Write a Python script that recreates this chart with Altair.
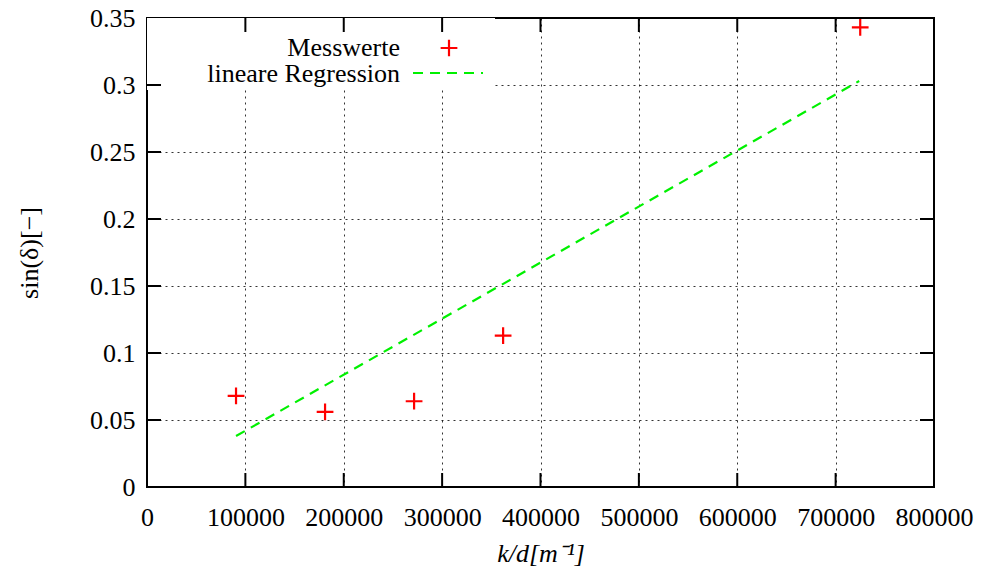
import altair as alt
import pandas as pd

# Data
kd = [90500, 181000, 271500, 362000, 725000]
sin_delta = [0.068, 0.056, 0.064, 0.113, 0.343]
reg_x = [90500, 724000]
reg_y = [0.038, 0.303]
x_ticks = [0, 100000, 200000, 300000, 400000, 500000, 600000, 700000, 800000]
y_ticks = [0, 0.05, 0.1, 0.15, 0.2, 0.25, 0.3, 0.35]
legend_labels = ["Messwerte", "lineare Regression"]

W, H = 787, 469
X_MAX, Y_MAX = 800000, 0.35
FONT = "Liberation Serif"
FS = 26
TL = 14  # tick length in px
RED = "#ff0000"
GREEN = "#00f000"
CROSS = "M-1,0L1,0M0,-1L0,1"

pts = pd.DataFrame({"x": kd, "y": sin_delta})
reg = pd.DataFrame({"x": reg_x, "y": reg_y})

# inward major tick segments on all four sides, as two-point line segments
ty = Y_MAX * TL / H
tx = X_MAX * TL / W
seg_rows = []
k = 0
for v in x_ticks[1:-1]:
    for (a, b) in [(0, ty), (Y_MAX - ty, Y_MAX)]:
        seg_rows.append({"seg": k, "o": 0, "x": v, "y": a})
        seg_rows.append({"seg": k, "o": 1, "x": v, "y": b})
        k += 1
for v in y_ticks[1:-1]:
    for (a, b) in [(0, tx), (X_MAX - tx, X_MAX)]:
        seg_rows.append({"seg": k, "o": 0, "x": a, "y": v})
        seg_rows.append({"seg": k, "o": 1, "x": b, "y": v})
        k += 1
seg_df = pd.DataFrame(seg_rows)

xs = alt.Scale(domain=[0, X_MAX], nice=False, zero=False)
ys = alt.Scale(domain=[0, Y_MAX], nice=False, zero=False)

# Layer 1: labels + grid
grid_layer = alt.Chart(pts).mark_point(opacity=0).encode(
    x=alt.X("x:Q", scale=xs, axis=alt.Axis(
        values=x_ticks, format="d", grid=True, gridDash=[2, 4], gridColor="#000",
        gridOpacity=0.8, ticks=False, domain=False, labelFont=FONT, labelFontSize=FS,
        labelColor="#000", labelPadding=17, title="k/d[m⁻¹]", titleFont=FONT,
        titleFontSize=FS, titleFontStyle="italic", titleFontWeight="normal",
        titleColor="#000", titlePadding=10, labelFlush=False)),
    y=alt.Y("y:Q", scale=ys, axis=alt.Axis(
        values=y_ticks, format="~g", grid=True, gridDash=[2, 4], gridColor="#000",
        gridOpacity=0.8, ticks=False, domain=False, labelFont=FONT, labelFontSize=FS,
        labelColor="#000", labelPadding=12, title="sin(δ)[−]", titleFont=FONT,
        titleFontSize=FS, titleFontWeight="normal", titleColor="#000",
        titlePadding=47, labelFlush=False)),
)

# white legend box
legend_box = alt.Chart(pd.DataFrame({"a": [0]})).mark_rect(color="white").encode(
    x=alt.value(0), x2=alt.value(348), y=alt.value(0), y2=alt.value(72)
)

reg_line = alt.Chart(reg).mark_line(color=GREEN, strokeWidth=2.2, strokeDash=[10, 7]).encode(
    x=alt.X("x:Q", scale=xs),
    y=alt.Y("y:Q", scale=ys),
)

tick_lines = alt.Chart(seg_df).mark_line(color="black", strokeWidth=2).encode(
    x=alt.X("x:Q", scale=xs),
    y=alt.Y("y:Q", scale=ys),
    detail="seg:N",
    order="o:Q",
)

points = alt.Chart(pts).mark_point(shape=CROSS, filled=False, color=RED, strokeWidth=2.2,
                                   size=280, opacity=1).encode(
    x=alt.X("x:Q", scale=xs),
    y=alt.Y("y:Q", scale=ys),
)

leg_text1 = alt.Chart(pd.DataFrame({"t": [legend_labels[0]]})).mark_text(
    align="right", baseline="middle", font=FONT, fontSize=FS, color="#000").encode(
    text="t:N", x=alt.value(253), y=alt.value(30))
leg_text2 = alt.Chart(pd.DataFrame({"t": [legend_labels[1]]})).mark_text(
    align="right", baseline="middle", font=FONT, fontSize=FS, color="#000").encode(
    text="t:N", x=alt.value(253), y=alt.value(56))
leg_cross = alt.Chart(pd.DataFrame({"a": [0]})).mark_point(
    shape=CROSS, filled=False, color=RED, strokeWidth=2.2, size=280, opacity=1).encode(
    x=alt.value(302), y=alt.value(30))
leg_dash = alt.Chart(pd.DataFrame({"a": [0]})).mark_rule(
    color=GREEN, strokeWidth=2.2, strokeDash=[10, 7]).encode(
    x=alt.value(266), x2=alt.value(336), y=alt.value(55))

chart = alt.layer(
    grid_layer, legend_box, reg_line, tick_lines, points,
    leg_text1, leg_text2, leg_cross, leg_dash,
).properties(
    width=W, height=H,
    autosize=alt.AutoSizeParams(type="none"),
    padding={"left": 139, "top": 10, "right": 40, "bottom": 80},
).configure_view(stroke="#000", strokeWidth=2)

chart.save("out.html", embed_options={"renderer": "svg", "actions": False})
